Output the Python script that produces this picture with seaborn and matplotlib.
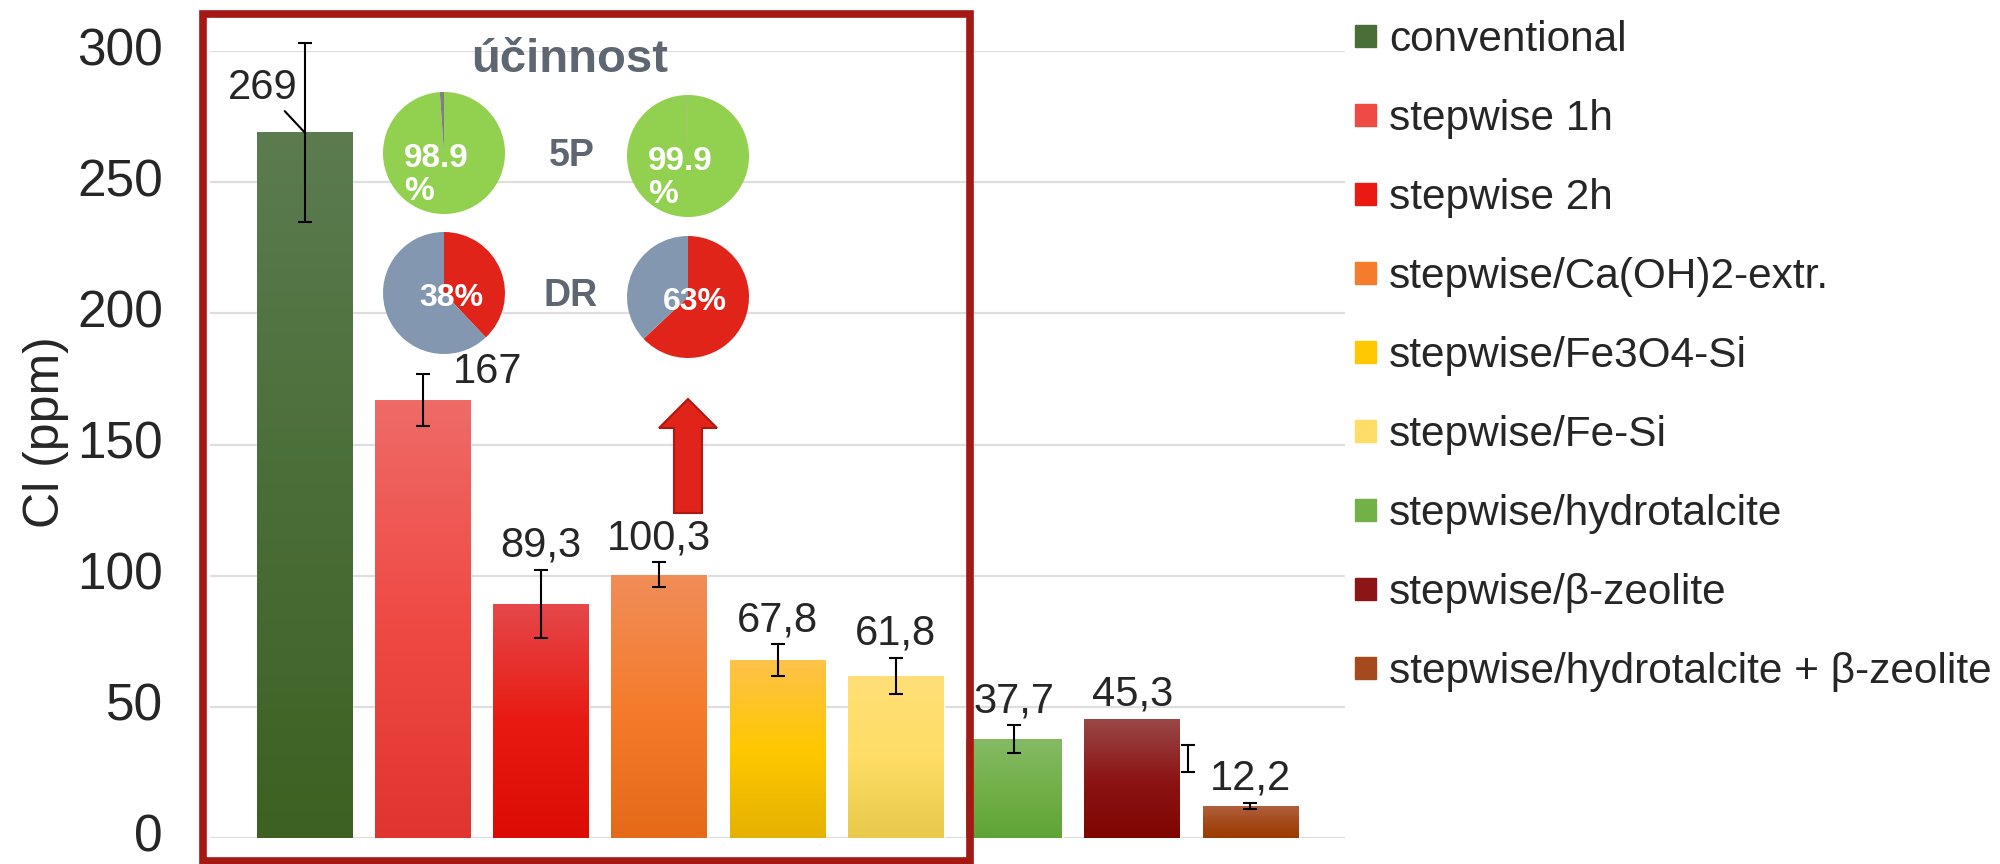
import numpy as np
import matplotlib
matplotlib.use('Agg')
import matplotlib.pyplot as plt
import matplotlib.patches as mpatches
import matplotlib.transforms as mtransforms
from matplotlib.colors import LinearSegmentedColormap
import seaborn as sns

# ---------------- data ----------------
categories = ['conventional', 'stepwise 1h', 'stepwise 2h', 'stepwise/Ca(OH)2-extr.',
              'stepwise/Fe3O4-Si', 'stepwise/Fe-Si', 'stepwise/hydrotalcite',
              'stepwise/β-zeolite', 'stepwise/hydrotalcite + β-zeolite']
cl_ppm = [269, 167, 89.3, 100.3, 67.8, 61.8, 37.7, 45.3, 12.2]
cl_err = [34, 10, 13, 4.8, 6, 7, 5.3, 5.2, 1.2]
# the beta-zeolite error bar sits next to its bar in the source chart
err_mid = [269, 167, 89.3, 100.3, 67.8, 61.8, 37.7, 30.4, 12.2]
err_shift = [0, 0, 0, 0, 0, 0, 0, 0.47, 0]

# účinnost pies (before / after)
eff_5p = [98.9, 99.9]
eff_dr = [38, 63]

top_colors = ['#5C7C50', '#EE6B68', '#E5484A', '#F08D58', '#FEC24A', '#FFDF78', '#85BA65', '#9A4848', '#B0623F']
mid_colors = ['#4A6E38', '#F04A45', '#E81A12', '#F47C2C', '#FFC800', '#FFDD66', '#72B048', '#8C1515', '#A44A1C']
bottom_colors = ['#3D6122', '#E0352F', '#DC0C04', '#E56A18', '#E4B200', '#E8C94A', '#5FA335', '#7E0500', '#9A3B00']

W, H = 2000, 864

sns.set_style('white')
plt.rcParams['font.family'] = ['Liberation Sans', 'DejaVu Sans']

fig = plt.figure(figsize=(20, 8.64), dpi=100)
ax = fig.add_axes([210 / W, 1 - 838 / H, 1135 / W, 787 / H])

x = np.arange(len(categories))
sns.barplot(x=x, y=cl_ppm, hue=x, palette=mid_colors, width=0.81, legend=False,
            ax=ax, zorder=2)

# vertical gradient on each bar
grad = np.linspace(0, 1, 256).reshape(-1, 1)
for i, p in enumerate(ax.patches):
    x0, w, h = p.get_x(), p.get_width(), p.get_height()
    cmap = LinearSegmentedColormap.from_list(f'g{i}', [bottom_colors[i], mid_colors[i], top_colors[i]])
    im = ax.imshow(grad, extent=[x0, x0 + w, 0, h], origin='lower', aspect='auto',
                   cmap=cmap, zorder=2.5)
    im.set_clip_path(p)

ax.errorbar(x + np.array(err_shift), err_mid, yerr=cl_err, fmt='none', ecolor='black',
            elinewidth=1.5, capsize=5, capthick=1.5, clip_on=False, zorder=5)

ax.set_xlim(-0.8, 8.8)
ax.set_ylim(0, 300)
ax.set_yticks(range(0, 301, 50))
ax.set_xticks([])
ax.set_xlabel('')
ax.set_axisbelow(True)
ax.yaxis.grid(True, color='#DEDEDE', lw=1.6)
ax.xaxis.grid(False)
for s in ax.spines.values():
    s.set_visible(False)
ax.tick_params(axis='y', length=0, pad=34, labelsize=37)
# lift tick labels a touch so the "0" stays inside the canvas
lift = mtransforms.ScaledTranslation(0, 5 / 100, fig.dpi_scale_trans)
for lab in ax.get_yticklabels():
    lab.set_transform(lab.get_transform() + lift)

# value labels
for i, v in enumerate(cl_ppm):
    txt = f'{v:g}'.replace('.', ',')
    if i == 0:
        ax.annotate(txt, xy=(i, v), xytext=(-30, 32), textcoords='offset points',
                    ha='center', va='center', fontsize=30,
                    arrowprops=dict(arrowstyle='-', color='black', lw=1.5, shrinkA=0, shrinkB=0))
    elif i == 1:
        ax.annotate(txt, xy=(i, v), xytext=(47, 20), textcoords='offset points',
                    ha='center', va='center', fontsize=30)
    else:
        top = max(v, err_mid[i] + cl_err[i])
        ax.annotate(txt, xy=(i, top), xytext=(0, 3), textcoords='offset points',
                    ha='center', va='bottom', fontsize=30)

fig.text(46 / W, 1 - 432 / H, 'Cl (ppm)', rotation=90, ha='center', va='center', fontsize=36)

# legend
handles = [mpatches.Patch(color=c) for c in mid_colors]
fig.legend(handles, categories, loc='upper left', bbox_to_anchor=(1355 / W, 1 - 20 / H),
           frameon=False, fontsize=30.5, handlelength=0.5, handleheight=0.42,
           handletextpad=0.3, labelspacing=0.92, borderpad=0, borderaxespad=0)

# red frame
fig.add_artist(mpatches.Rectangle((203 / W, 1 - 861 / H), (970 - 203) / W, (861 - 14) / H,
                                  transform=fig.transFigure, fill=False,
                                  ec='#A51914', lw=5.5))

# pies
green, grey, red, bluegrey = '#92D050', '#7F7F7F', '#E0241A', '#8497B0'


def pie_ax(cx, cy, r):
    pa = fig.add_axes([(cx - r) / W, 1 - (cy + r) / H, 2 * r / W, 2 * r / H])
    return pa


fig.text(570 / W, 1 - 60 / H, 'účinnost', ha='center', va='center', fontsize=34,
         fontweight='bold', color='#5D6671')

for j, (cx, cy) in enumerate([(444, 153), (688, 156)]):
    pa = pie_ax(cx, cy, 61)
    v = eff_5p[j]
    pa.pie([v, 100 - v], colors=[green, grey], startangle=90, counterclock=False,
           wedgeprops=dict(linewidth=0))
    pa.set_xlim(-1, 1)
    pa.set_ylim(-1, 1)
    pa.text(-0.66, 0.17, f'{v}\n%', color='white', fontsize=24, fontweight='bold',
            ha='left', va='top', linespacing=1.1)

for j, (cx, cy) in enumerate([(444, 293), (688, 297)]):
    pa = pie_ax(cx, cy, 61)
    v = eff_dr[j]
    pa.pie([v, 100 - v], colors=[red, bluegrey], startangle=90, counterclock=False,
           wedgeprops=dict(linewidth=0))
    pa.set_xlim(-1, 1)
    pa.set_ylim(-1, 1)
    pa.text(0.12, -0.08, f'{v}%', color='white', fontsize=23, fontweight='bold',
            ha='center', va='center')

fig.text(572 / W, 1 - 156 / H, '5P', ha='center', va='center', fontsize=27,
         fontweight='bold', color='#5D6671')
fig.text(571 / W, 1 - 296 / H, 'DR', ha='center', va='center', fontsize=27,
         fontweight='bold', color='#5D6671')

# upward arrow
fig.add_artist(mpatches.FancyArrow(688 / W, 1 - 513 / H, 0, (513 - 399) / H,
                                   width=28 / W, head_width=58 / W, head_length=29 / H,
                                   length_includes_head=True, transform=fig.transFigure,
                                   fc='#E0241A', ec='#B01810', lw=1.5))

fig.savefig('out.png', dpi=100)
